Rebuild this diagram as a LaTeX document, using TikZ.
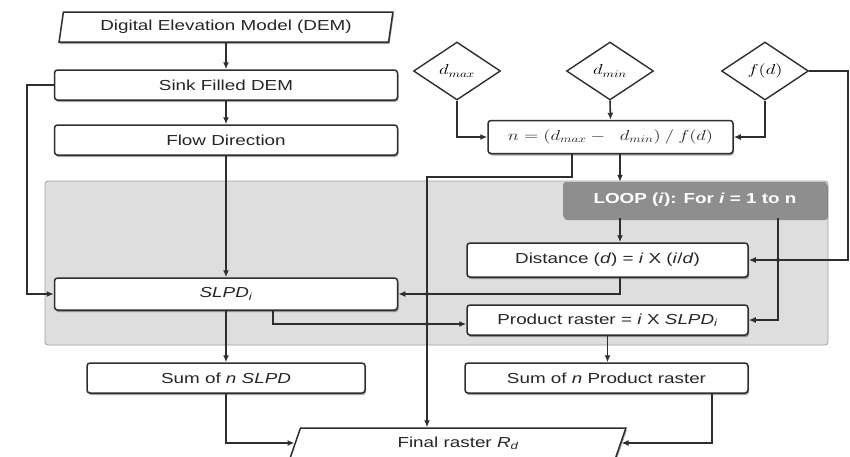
\documentclass[tikz,border=0pt]{standalone}
\usepackage{fontspec}
\usepackage{graphicx}
\setmainfont{Liberation Sans}[FakeStretch=1.3]
\usetikzlibrary{shapes.geometric,arrows.meta,shadows}
\definecolor{lncol}{HTML}{2E2E2E}
\definecolor{regfill}{HTML}{DEDEDE}
\definecolor{regline}{HTML}{A0A0A0}
\definecolor{loopfill}{HTML}{8E8E8E}
\newcommand{\mth}[1]{\scalebox{1.3}[1]{$#1$}}
\begin{document}
\begin{tikzpicture}[x=1pt,y=-1pt,
  font=\fontsize{14.5}{17}\selectfont,
  shad/.style={drop shadow={shadow xshift=1pt,shadow yshift=-2pt,opacity=0.35,fill=black}},
  boxnode/.style={draw=lncol,line width=1.5pt,rounded corners=3pt,fill=white,shad,
    inner sep=0pt,text=black!85},
  pgram/.style={trapezium,trapezium left angle=76,trapezium right angle=104,
    trapezium stretches=true,draw=lncol,line width=1.5pt,fill=white,shad,inner sep=0pt,text=black!85},
  dia/.style={diamond,draw=lncol,line width=1.4pt,fill=white,inner sep=0pt,
    minimum width=87pt,minimum height=58pt},
  loopbox/.style={fill=loopfill,rounded corners=3pt,shad,text=white,inner sep=0pt,
    font=\fontsize{14.5}{17}\selectfont\bfseries},
  conn/.style={draw=lncol,line width=1.6pt},
  arr/.style={conn,-{Latex[length=7pt,width=6pt]}},
  jdot/.style={circle,fill=lncol,inner sep=0pt,minimum size=4pt}
]
\useasboundingbox (0,0) rectangle (850,456);

% loop region
\node[draw=regline,fill=regfill,line width=0.8pt,rounded corners=3pt,
  minimum width=783pt,minimum height=164pt,inner sep=0pt] (region) at (436.5,263) {};

% lane coordinates
\coordinate (xL) at (27,0);
\coordinate (xM) at (427,0);
\coordinate (xS) at (273,0);
\coordinate (xF) at (572,0);
\coordinate (xA) at (620,0);
\coordinate (xB) at (778,0);
\coordinate (xR) at (848,0);
\coordinate (xP) at (712,0);
\coordinate (yF) at (0,177);

% nodes
\node[pgram,minimum width=335pt,minimum height=30pt] (dem) at (226,27) {Digital Elevation Model (DEM)};
\node[boxnode,minimum width=343pt,minimum height=30pt] (sink) at (226,85) {Sink Filled DEM};
\node[boxnode,minimum width=343pt,minimum height=30pt] (flow) at (226,140) {Flow Direction};
\node[boxnode,minimum width=343pt,minimum height=32pt] (slpd) at (226,294) {\itshape SLPD\textsubscript{i}};
\node[boxnode,minimum width=278pt,minimum height=30pt] (sums) at (226,378) {Sum of \textit{n SLPD}};

\node[dia] (dmax) at (457,71) {\mth{d_{max}}};
\node[dia] (dmin) at (610,71) {\mth{d_{min}}};
\node[dia] (fd) at (765,71) {\mth{f(d)}};

\node[boxnode,minimum width=245pt,minimum height=33pt] (form) at (610.5,137)
  {\mth{n = (d_{max} -\;\; d_{min}) \mathbin{/} f(d)}};
\node[loopbox,minimum width=264pt,minimum height=36pt] (loop) at (695,200)
  {LOOP (\textit{i}): For \textit{i} = 1 to n};
\node[boxnode,minimum width=281pt,minimum height=34pt] (dist) at (607.5,260)
  {Distance (\textit{d}) = \textit{i} X (\textit{i}/\textit{d})};
\node[boxnode,minimum width=281pt,minimum height=30pt] (prod) at (607.5,320)
  {Product raster = \textit{i} X \textit{SLPD\textsubscript{i}}};
\node[boxnode,minimum width=283pt,minimum height=30pt] (sump) at (606.5,378)
  {Sum of \textit{n} Product raster};
\node[pgram,minimum width=336pt,minimum height=30pt,trapezium left angle=73,trapezium right angle=107] (final) at (458,443)
  {Final raster \textit{R\textsubscript{d}}};

% connectors
\draw[arr] (dem.south -| sink.north) -- (sink.north);
\draw[arr] (sink.south) -- (flow.north);
\draw[arr] (flow.south) -- (slpd.north);
\draw[arr] (sink.west) -- (sink.west -| xL) -- (xL |- slpd.west) -- (slpd.west);

\draw[arr] (dmax.south) |- (form.west);
\draw[arr] (dmin.south) -- (form.north);
\draw[arr] (fd.south) |- (form.east);

\draw[arr] (form.south -| xA) -- (loop.north -| xA);
\draw[arr] (loop.south -| xA) -- (dist.north -| xA);
\draw[arr] (loop.south -| xB) -- (xB |- prod.east) -- (prod.east);
\draw[arr] (fd.east) -- (fd.east -| xR) -- (xR |- dist.east) -- (dist.east);

\draw[arr] (dist.south -| xA) -- (xA |- slpd.east) -- (slpd.east);
\draw[arr] (form.south -| xF) -- (xF |- yF) -- (xM |- yF) -- (xM |- final.north);
\draw[arr] (slpd.south -| xS) -- ([yshift=-4pt]xS |- prod.west) -- ([yshift=-4pt]prod.west);

\draw[arr] (slpd.south) -- (slpd.south |- sums.north);
\draw[arr] (prod.south) -- (prod.south |- sump.north);
\draw[arr] (sums.south) |- (final.west);
\draw[arr] (sump.south -| xP) -- (xP |- final.east) -- (final.east);

% junction dots
\node[jdot] (j1) at (xM |- slpd.east) {};
\node[jdot] (j2) at ([yshift=-4pt]xM |- prod.west) {};
\node[jdot] (j3) at (xB |- dist.east) {};
\end{tikzpicture}
\end{document}
